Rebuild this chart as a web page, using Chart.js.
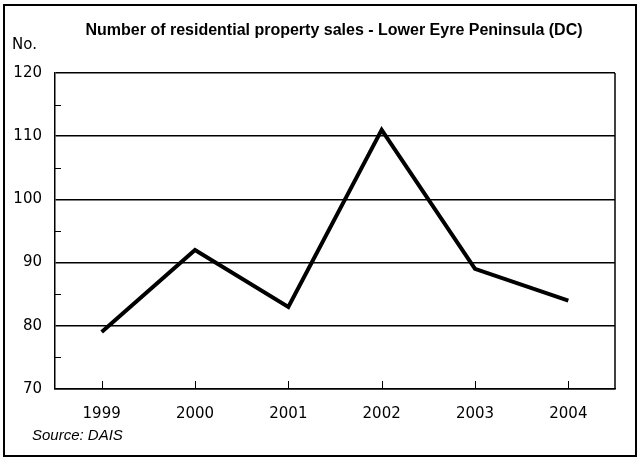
<!DOCTYPE html>
<html>
<head>
<meta charset="utf-8">
<script src="https://cdn.jsdelivr.net/npm/chart.js@4"></script>
<style>
  html, body { margin: 0; padding: 0; background: #fff; }
  #wrap { width: 639px; height: 459px; position: relative; }
</style>
</head>
<body>
<div id="wrap"><canvas id="myChart"></canvas></div>
<script>
const chartTitle = 'Number of residential property sales - Lower Eyre Peninsula (DC)';
const yUnit = 'No.';
const sourceNote = 'Source: DAIS';
const years = ['1999', '2000', '2001', '2002', '2003', '2004'];
const sales = [79, 92, 83, 111, 89, 84];
const yMin = 70;
const yMax = 120;

// bits the library does not draw itself: title, notes, frame, inner ticks
const decorations = {
    id: 'decorations',
    afterDraw(chart) {
        const c = chart.ctx;
        const area = chart.chartArea;
        const x = chart.scales.x;
        const y = chart.scales.y;
        c.save();
        c.strokeStyle = '#000';

        // outer frame
        c.lineWidth = 2;
        c.strokeRect(4, 5, 632, 451);

        // right border of plot
        c.lineWidth = 1.5;
        c.beginPath();
        c.moveTo(area.right, area.top);
        c.lineTo(area.right, area.bottom);
        c.stroke();

        // minor ticks on the y axis (inside)
        c.lineWidth = 1;
        for (let v = yMin + 5; v < yMax; v += 10) {
            const py = Math.round(y.getPixelForValue(v)) + 0.5;
            c.beginPath();
            c.moveTo(area.left, py);
            c.lineTo(area.left + 6, py);
            c.stroke();
        }
        // category ticks on the x axis (inside)
        years.forEach((yr, i) => {
            const px = Math.round(x.getPixelForValue(i)) + 0.5;
            c.beginPath();
            c.moveTo(px, area.bottom);
            c.lineTo(px, area.bottom - 8);
            c.stroke();
        });

        c.fillStyle = '#000';
        c.textBaseline = 'middle';
        c.textAlign = 'center';
        c.font = 'bold 16px "Liberation Sans", Arial, sans-serif';
        c.fillText(chartTitle, 334, 31);

        c.textAlign = 'left';
        c.font = '15px "DejaVu Sans", sans-serif';
        c.fillText(yUnit, 12, 45);

        c.font = 'italic 15px "Liberation Sans", Arial, sans-serif';
        c.fillText(sourceNote, 32, 436);
        c.restore();
    }
};

const ctx = document.getElementById('myChart').getContext('2d');
const myChart = new Chart(ctx, {
    type: 'line',
    data: {
        labels: years,
        datasets: [{
            label: chartTitle,
            data: sales,
            borderColor: '#000',
            borderWidth: 4,
            borderJoinStyle: 'miter',
            pointRadius: 0,
            tension: 0,
            fill: false
        }]
    },
    options: {
        responsive: true,
        maintainAspectRatio: false,
        animation: false,
        layout: {
            padding: { top: 73, right: 24, bottom: 0, left: 0 }
        },
        plugins: {
            legend: { display: false },
            title: { display: false },
            tooltip: { enabled: false }
        },
        scales: {
            x: {
                offset: true,
                grid: { display: false, drawTicks: false },
                border: { display: true, color: '#000', width: 1.5 },
                ticks: {
                    color: '#000',
                    padding: 16,
                    font: { family: '"DejaVu Sans", sans-serif', size: 15 }
                },
                afterFit(scale) { scale.height = 70; }
            },
            y: {
                min: yMin,
                max: yMax,
                grid: {
                    drawTicks: false,
                    lineWidth: 1.5,
                    color: (c) => (c.tick && c.tick.value % 10 === 0) ? '#000' : 'rgba(0,0,0,0)'
                },
                border: { display: true, color: '#000', width: 1.5 },
                ticks: {
                    stepSize: 10,
                    color: '#000',
                    padding: 13,
                    font: { family: '"DejaVu Sans", sans-serif', size: 15 }
                },
                afterFit(scale) { scale.width = 55; }
            }
        }
    },
    plugins: [decorations]
});
</script>
</body>
</html>
